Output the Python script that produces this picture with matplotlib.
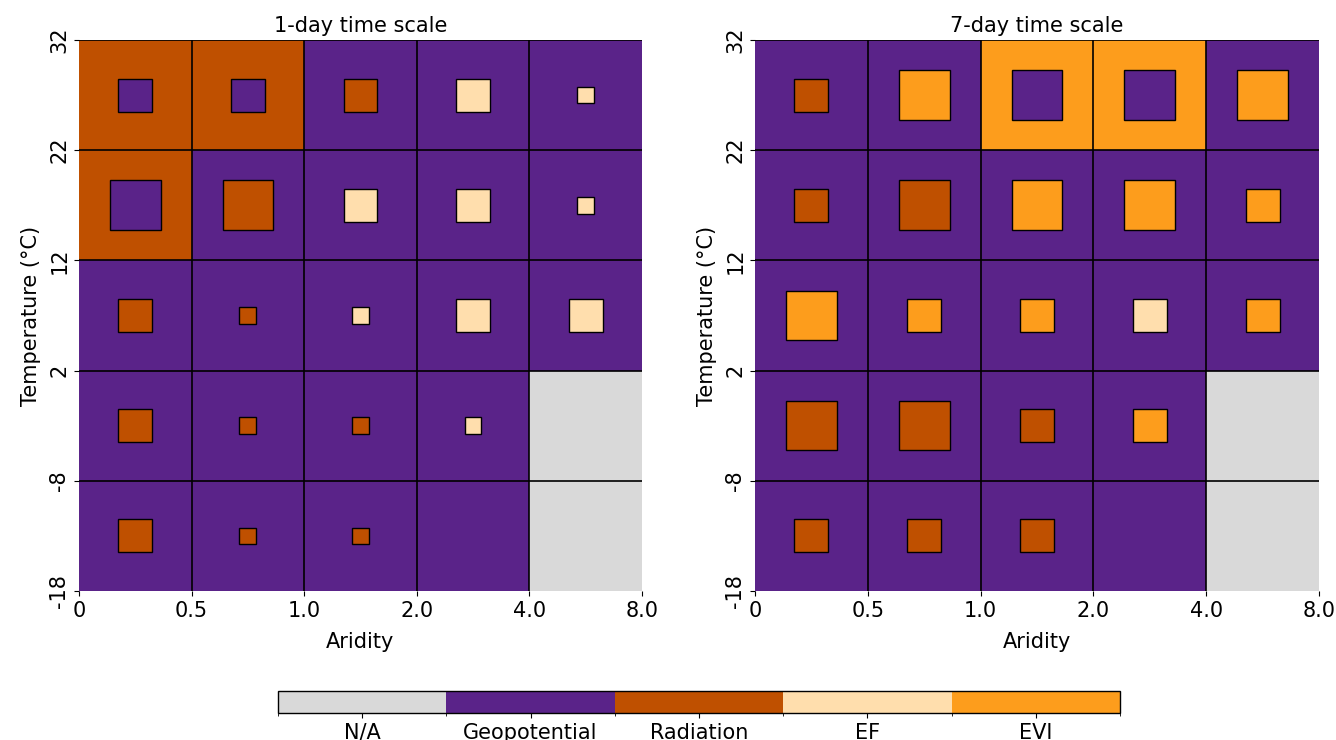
import numpy as np
import matplotlib
matplotlib.use("Agg")
import matplotlib.pyplot as plt
from matplotlib.colors import ListedColormap, BoundaryNorm
from matplotlib.patches import Rectangle

categories = ["N/A", "Geopotential", "Radiation", "EF", "EVI"]
colors = ["#d9d9d9", "#5a2389", "#bf5000", "#ffdead", "#fd9d1c"]
aridity_ticks = ["0", "0.5", "1.0", "2.0", "4.0", "8.0"]
temp_ticks = ["-18", "-8", "2", "12", "22", "32"]
titles = ["1-day time scale", "7-day time scale"]

# rows listed from bottom (-18..-8) to top (22..32); columns aridity bins
# category index: 0 N/A, 1 Geopotential, 2 Radiation, 3 EF, 4 EVI
bg_1day = [
    [1, 1, 1, 1, 0],
    [1, 1, 1, 1, 0],
    [1, 1, 1, 1, 1],
    [2, 1, 1, 1, 1],
    [2, 2, 1, 1, 1],
]
inner_1day = [
    [2, 2, 2, 0, 0],
    [2, 2, 2, 3, 0],
    [2, 2, 3, 3, 3],
    [1, 2, 3, 3, 3],
    [1, 1, 2, 3, 3],
]
size_1day = [
    [2, 1, 1, 0, 0],
    [2, 1, 1, 1, 0],
    [2, 1, 1, 2, 2],
    [3, 3, 2, 2, 1],
    [2, 2, 2, 2, 1],
]
bg_7day = [
    [1, 1, 1, 1, 0],
    [1, 1, 1, 1, 0],
    [1, 1, 1, 1, 1],
    [1, 1, 1, 1, 1],
    [1, 1, 4, 4, 1],
]
inner_7day = [
    [2, 2, 2, 0, 0],
    [2, 2, 2, 4, 0],
    [4, 4, 4, 3, 4],
    [2, 2, 4, 4, 4],
    [2, 4, 1, 1, 4],
]
size_7day = [
    [2, 2, 2, 0, 0],
    [3, 3, 2, 2, 0],
    [3, 2, 2, 2, 2],
    [2, 3, 3, 3, 2],
    [2, 3, 3, 3, 3],
]

size_unit = 0.15
FS = 15

cmap = ListedColormap(colors)
norm = BoundaryNorm(np.arange(-0.5, len(categories) + 0.5, 1), cmap.N)

fig = plt.figure(figsize=(13.36, 7.4), dpi=100)
axes = [fig.add_axes([0.0591, 0.2014, 0.4214, 0.7446]),
        fig.add_axes([0.5651, 0.2014, 0.4222, 0.7446])]

datasets = [(bg_1day, inner_1day, size_1day), (bg_7day, inner_7day, size_7day)]
for ax, (bg, inner, size), title in zip(axes, datasets, titles):
    bg = np.array(bg)
    inner = np.array(inner)
    size = np.array(size)
    nr, nc = bg.shape
    ax.pcolormesh(np.arange(nc + 1), np.arange(nr + 1), bg, cmap=cmap, norm=norm)
    for r in range(nr):
        for c in range(nc):
            s = size[r, c] * size_unit
            if s > 0:
                ax.add_patch(Rectangle((c + 0.5 - s / 2, r + 0.5 - s / 2), s, s,
                                       facecolor=colors[inner[r, c]],
                                       edgecolor="black", lw=1.0, zorder=3))
    for y in range(1, nr + 1):
        ax.axhline(y, color="black", lw=1.2, zorder=2)
    for x in range(1, nc):
        ax.axvline(x, color="black", lw=1.2, zorder=2)
    ax.set_xlim(0, nc)
    ax.set_ylim(0, nr)
    for sp in ax.spines.values():
        sp.set_visible(False)
    ax.set_xticks(np.arange(nc + 1))
    ax.set_xticklabels(aridity_ticks, fontsize=FS)
    ax.set_yticks(np.arange(nr + 1))
    ax.set_yticklabels(temp_ticks, fontsize=FS, rotation=90, va="center")
    ax.set_xlabel("Aridity", fontsize=FS, labelpad=8)
    ax.set_ylabel("Temperature (°C)", fontsize=FS, labelpad=6)
    ax.set_title(title, fontsize=FS)

cax = fig.add_axes([0.2081, 0.0365, 0.6302, 0.0297])
sm = plt.cm.ScalarMappable(cmap=cmap, norm=norm)
cb = fig.colorbar(sm, cax=cax, orientation="horizontal")
cb.set_ticks(np.arange(len(categories)))
cb.set_ticklabels(categories, fontsize=FS)
cb.outline.set_linewidth(1.0)

fig.savefig("out.png", dpi=100)
